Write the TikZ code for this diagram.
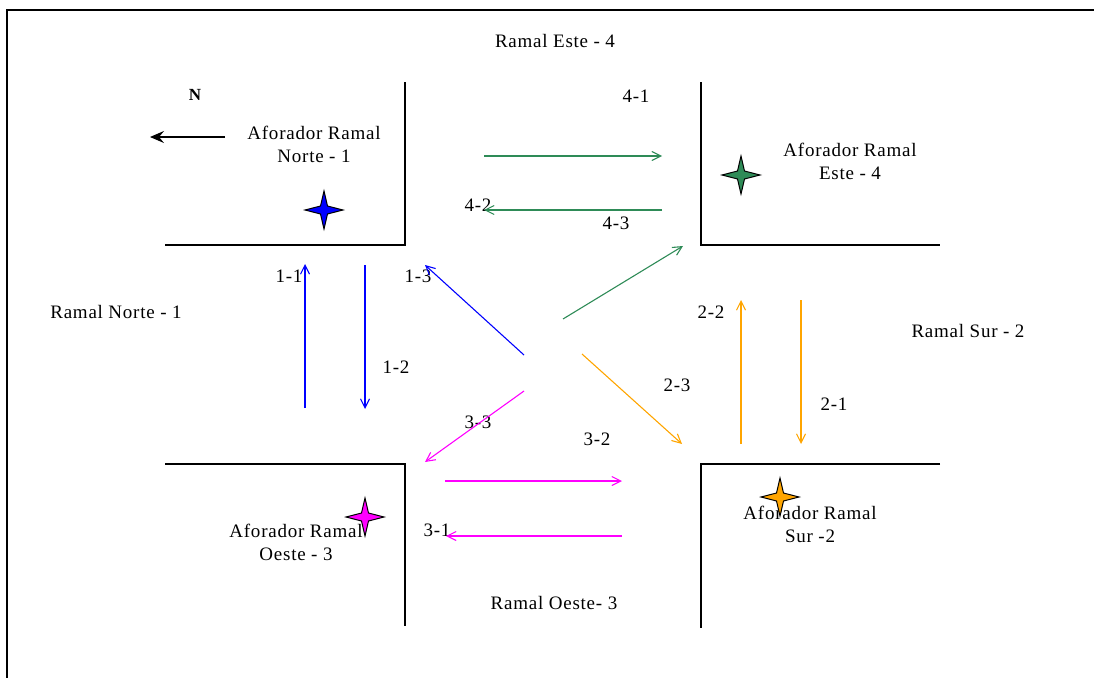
\documentclass[tikz,border=0pt]{standalone}
\usepackage{fontspec}
\setmainfont{Liberation Serif}
\usetikzlibrary{arrows.meta}
\definecolor{cgreen}{RGB}{46,139,87}
\definecolor{cblue}{RGB}{0,0,255}
\definecolor{cmag}{RGB}{255,0,255}
\definecolor{corange}{RGB}{255,165,0}
\tikzset{
  lbl/.style={inner sep=0pt,font=\fontsize{19}{23}\selectfont\addfontfeature{LetterSpace=4}},
  afo/.style={lbl,align=center},
  road/.style={draw=black,line width=1.2pt},
  flow/.style={line width=1.1pt,-{Straight Barb[length=9pt,width=9pt]}},
  starsh/.style={draw=black,line width=1pt},
}
\newcommand{\fourstar}[3]{%
  \fill[#3,starsh] (#1,#2) ++(0,-19) -- ++(3.5,15) -- ++(15.5,4) -- ++(-15.5,4) -- ++(-3.5,15) -- ++(-3.5,-15) -- ++(-15.5,-4) -- ++(15.5,-4) -- cycle;}
\begin{document}
\begin{tikzpicture}[x=1pt,y=-1pt]
\useasboundingbox (0,0) rectangle (1094,677);
% frame
\draw[line width=1.5pt] (7,690) -- (7,10) -- (1100,10);
% corners
\draw[road] (405,82) -- (405,245) -- (165,245);
\draw[road] (701,82) -- (701,245) -- (940,245);
\draw[road] (165,464) -- (405,464) -- (405,626);
\draw[road] (940,464) -- (701,464) -- (701,628);
% texts
\node[lbl] (re4) at (555,41) {Ramal Este - 4};
\node[inner sep=0pt,font=\fontsize{17}{20}\selectfont\bfseries] (n) at (195,95) {N};
\node[afo] (an1) at (314,144) {Aforador Ramal\\Norte - 1};
\node[afo] (ae4) at (850,161) {Aforador Ramal\\Este - 4};
\node[lbl] (rn1) at (116,312) {Ramal Norte - 1};
\node[lbl] (rs2) at (968,331) {Ramal Sur - 2};
\node[afo] (ao3) at (296,542) {Aforador Ramal\\Oeste - 3};
\node[afo] (as2) at (810,524) {Aforador Ramal\\Sur -2};
\node[lbl] (ro3) at (554,603) {Ramal Oeste- 3};
% arrow labels
\node[lbl] (l41) at (636,96) {4-1};
\node[lbl] (l42) at (478,205) {4-2};
\node[lbl] (l43) at (616,223) {4-3};
\node[lbl] (l11) at (289,276) {1-1};
\node[lbl] (l13) at (418,276) {1-3};
\node[lbl] (l12) at (396,367) {1-2};
\node[lbl] (l33) at (478,422) {3-3};
\node[lbl] (l32) at (597,439) {3-2};
\node[lbl] (l23) at (677,385) {2-3};
\node[lbl] (l22) at (711,312) {2-2};
\node[lbl] (l21) at (834,404) {2-1};
\node[lbl] (l31) at (437,530) {3-1};
% coordinates
\coordinate (na) at (225,137); \coordinate (nb) at (150,137);
\coordinate (a41) at (484,156); \coordinate (b41) at (662,156);
\coordinate (a42) at (662,210); \coordinate (b42) at (484,210);
\coordinate (a43) at (563,319); \coordinate (b43) at (683,246);
\coordinate (a11) at (305,408); \coordinate (b11) at (305,264);
\coordinate (a12) at (365,265); \coordinate (b12) at (365,409);
\coordinate (a13) at (524,355); \coordinate (b13) at (425,265);
\coordinate (a33) at (524,391); \coordinate (b33) at (425,462);
\coordinate (a32) at (445,481); \coordinate (b32) at (622,481);
\coordinate (a31) at (622,536); \coordinate (b31) at (446,536);
\coordinate (a23) at (582,354); \coordinate (b23) at (682,444);
\coordinate (a22) at (741,444); \coordinate (b22) at (741,300);
\coordinate (a21) at (801,300); \coordinate (b21) at (801,444);
% arrows
\draw[line width=1.2pt,-{Stealth[length=14pt,width=12pt,inset=5pt]}] (na) -- (nb);
\draw[flow,cgreen] (a41) -- (b41);
\draw[flow,cgreen] (a42) -- (b42);
\draw[flow,cgreen] (a43) -- (b43);
\draw[flow,cblue] (a11) -- (b11);
\draw[flow,cblue] (a12) -- (b12);
\draw[flow,cblue] (a13) -- (b13);
\draw[flow,cmag] (a33) -- (b33);
\draw[flow,cmag] (a32) -- (b32);
\draw[flow,cmag] (a31) -- (b31);
\draw[flow,corange] (a23) -- (b23);
\draw[flow,corange] (a22) -- (b22);
\draw[flow,corange] (a21) -- (b21);
% stars
\fourstar{324}{210}{cblue}
\fourstar{741}{175}{cgreen}
\fourstar{365}{517}{cmag}
\fourstar{780}{497}{corange}
\end{tikzpicture}
\end{document}
